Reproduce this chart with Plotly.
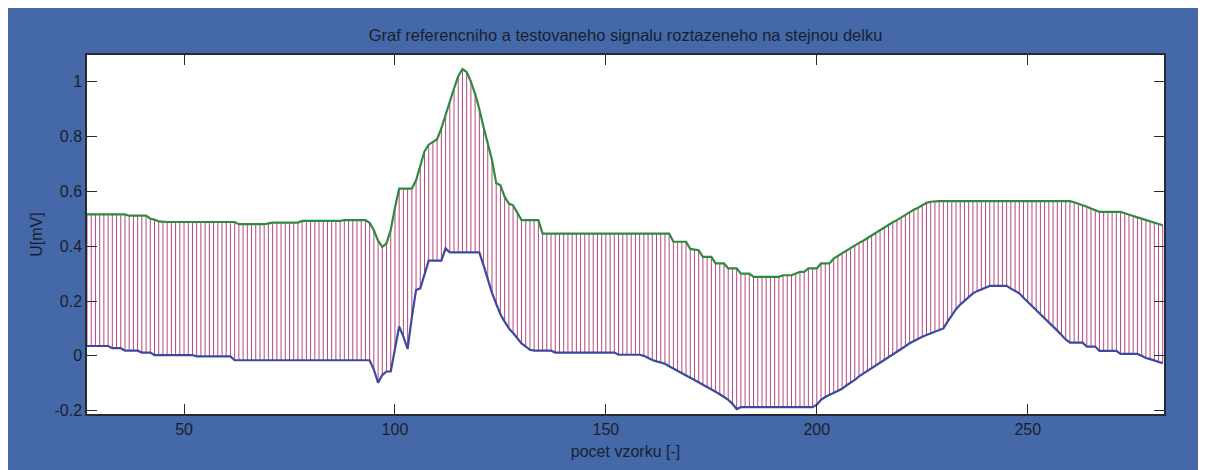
import plotly.graph_objects as go

# sample index (x axis)
samples = list(range(27, 283))

# upper (reference) signal, one value per sample 27..282
upper = [
    0.516, 0.516, 0.516, 0.516, 0.516, 0.516, 0.516, 0.516, 0.516, 0.516,
    0.511, 0.511, 0.511, 0.511, 0.511, 0.500, 0.497, 0.490, 0.488, 0.488,
    0.488, 0.488, 0.488, 0.488, 0.488, 0.488, 0.488, 0.488, 0.488, 0.488,
    0.488, 0.488, 0.488, 0.488, 0.488, 0.488, 0.480, 0.480, 0.480, 0.480,
    0.480, 0.480, 0.480, 0.483, 0.486, 0.486, 0.486, 0.486, 0.486, 0.486,
    0.486, 0.492, 0.492, 0.492, 0.492, 0.492, 0.492, 0.492, 0.492, 0.492,
    0.492, 0.495, 0.495, 0.495, 0.495, 0.495, 0.495, 0.485, 0.458, 0.420,
    0.397, 0.410, 0.460, 0.540, 0.610, 0.610, 0.610, 0.610, 0.640, 0.690,
    0.745, 0.770, 0.780, 0.790, 0.830, 0.880, 0.930, 0.975, 1.020, 1.046,
    1.035, 1.000, 0.955, 0.900, 0.834, 0.770, 0.715, 0.630, 0.622, 0.580,
    0.555, 0.549, 0.520, 0.495, 0.495, 0.495, 0.495, 0.495, 0.446, 0.446,
    0.446, 0.446, 0.446, 0.446, 0.446, 0.446, 0.446, 0.446, 0.446, 0.446,
    0.446, 0.446, 0.446, 0.446, 0.446, 0.446, 0.446, 0.446, 0.446, 0.446,
    0.446, 0.446, 0.446, 0.446, 0.446, 0.446, 0.446, 0.446, 0.446, 0.416,
    0.416, 0.416, 0.416, 0.390, 0.388, 0.385, 0.361, 0.361, 0.361, 0.337,
    0.337, 0.337, 0.319, 0.319, 0.319, 0.300, 0.300, 0.300, 0.288, 0.288,
    0.288, 0.288, 0.288, 0.288, 0.288, 0.294, 0.294, 0.294, 0.300, 0.306,
    0.306, 0.319, 0.319, 0.319, 0.337, 0.337, 0.337, 0.355, 0.365, 0.373,
    0.385, 0.395, 0.404, 0.412, 0.420, 0.430, 0.440, 0.450, 0.460, 0.470,
    0.478, 0.487, 0.495, 0.505, 0.515, 0.525, 0.533, 0.540, 0.550, 0.558,
    0.562, 0.564, 0.564, 0.564, 0.564, 0.564, 0.564, 0.564, 0.564, 0.564,
    0.564, 0.564, 0.564, 0.564, 0.564, 0.564, 0.564, 0.564, 0.564, 0.564,
    0.564, 0.564, 0.564, 0.564, 0.564, 0.564, 0.564, 0.564, 0.564, 0.564,
    0.564, 0.564, 0.564, 0.564, 0.560, 0.555, 0.549, 0.544, 0.537, 0.530,
    0.525, 0.525, 0.525, 0.525, 0.525, 0.525, 0.520, 0.514, 0.510, 0.505,
    0.500, 0.495, 0.490, 0.485, 0.480, 0.476,
]

# lower (tested) signal, one value per sample 27..282
lower = [
    0.036, 0.036, 0.036, 0.036, 0.036, 0.036, 0.028, 0.028, 0.028, 0.019,
    0.019, 0.019, 0.019, 0.012, 0.012, 0.012, 0.003, 0.003, 0.003, 0.003,
    0.003, 0.003, 0.003, 0.003, 0.003, 0.003, -0.002, -0.002, -0.002, -0.002,
    -0.002, -0.002, -0.002, -0.002, -0.002, -0.016, -0.016, -0.016, -0.016, -0.016,
    -0.016, -0.016, -0.016, -0.016, -0.016, -0.016, -0.016, -0.016, -0.016, -0.016,
    -0.016, -0.016, -0.016, -0.016, -0.016, -0.016, -0.016, -0.016, -0.016, -0.016,
    -0.016, -0.016, -0.016, -0.016, -0.016, -0.016, -0.016, -0.016, -0.050, -0.098,
    -0.070, -0.057, -0.057, 0.030, 0.107, 0.070, 0.025, 0.140, 0.240, 0.246,
    0.300, 0.347, 0.347, 0.347, 0.347, 0.392, 0.377, 0.377, 0.377, 0.377,
    0.377, 0.377, 0.377, 0.377, 0.330, 0.280, 0.230, 0.190, 0.152, 0.125,
    0.100, 0.083, 0.065, 0.045, 0.034, 0.022, 0.019, 0.019, 0.019, 0.019,
    0.019, 0.012, 0.012, 0.012, 0.012, 0.012, 0.012, 0.012, 0.012, 0.012,
    0.012, 0.012, 0.012, 0.012, 0.012, 0.012, 0.004, 0.004, 0.004, 0.004,
    0.004, 0.004, 0.000, -0.008, -0.015, -0.020, -0.025, -0.029, -0.038, -0.047,
    -0.055, -0.063, -0.072, -0.080, -0.088, -0.096, -0.104, -0.112, -0.122, -0.131,
    -0.140, -0.150, -0.160, -0.175, -0.194, -0.187, -0.187, -0.187, -0.187, -0.187,
    -0.187, -0.187, -0.187, -0.187, -0.187, -0.187, -0.187, -0.187, -0.187, -0.187,
    -0.187, -0.187, -0.187, -0.178, -0.160, -0.150, -0.142, -0.135, -0.127, -0.120,
    -0.108, -0.099, -0.088, -0.075, -0.065, -0.055, -0.045, -0.037, -0.028, -0.018,
    -0.008, 0.002, 0.012, 0.022, 0.035, 0.046, 0.055, 0.062, 0.070, 0.076,
    0.082, 0.088, 0.095, 0.100, 0.125, 0.150, 0.170, 0.187, 0.200, 0.214,
    0.228, 0.236, 0.243, 0.250, 0.255, 0.255, 0.255, 0.255, 0.255, 0.245,
    0.235, 0.228, 0.212, 0.197, 0.183, 0.168, 0.155, 0.140, 0.122, 0.107,
    0.092, 0.076, 0.060, 0.048, 0.048, 0.048, 0.048, 0.034, 0.034, 0.034,
    0.018, 0.018, 0.018, 0.018, 0.018, 0.007, 0.007, 0.007, 0.007, 0.007,
    0.000, -0.008, -0.012, -0.017, -0.022, -0.027,
]

x_ticks = [50, 100, 150, 200, 250]
x_tick_labels = ["50", "100", "150", "200", "250"]
y_ticks = [-0.2, 0, 0.2, 0.4, 0.6, 0.8, 1.0]
y_tick_labels = ["-0.2", "0", "0.2", "0.4", "0.6", "0.8", "1"]

assert len(upper) == len(samples) and len(lower) == len(samples)

BG = "#4568A8"
TXT = "#1a1f2e"
FONT = "Liberation Sans, Arial, sans-serif"

# vertical connectors between the two signals at each sample
stem_x, stem_y = [], []
for s, lo, up in zip(samples, lower, upper):
    stem_x += [s, s, None]
    stem_y += [lo, up, None]

fig = go.Figure()
fig.add_trace(go.Scatter(x=stem_x, y=stem_y, mode="lines",
                         line=dict(color="#B4497E", width=1),
                         connectgaps=False, hoverinfo="skip", showlegend=False))
fig.add_trace(go.Scatter(x=samples, y=upper, mode="lines",
                         line=dict(color="#2E8A3F", width=2.2), showlegend=False))
fig.add_trace(go.Scatter(x=samples, y=lower, mode="lines",
                         line=dict(color="#3B4AA0", width=2.2), showlegend=False))

# page has an 8px body margin; the figure overflows the window on right/bottom
W, H = 1206, 470
L, R, T, B = 79, 50, 47, 64

axis_common = dict(showgrid=False, zeroline=False, showline=True,
                   linecolor="#262a33", linewidth=1.5, mirror="ticks",
                   ticks="inside", ticklen=10, tickcolor="#262a33", tickwidth=1,
                   tickfont=dict(family=FONT, size=16, color=TXT))

fig.update_layout(
    width=W, height=H,
    margin=dict(l=L, r=R, t=T, b=B),
    paper_bgcolor=BG, plot_bgcolor="white",
    title=dict(text="Graf referencniho a testovaneho signalu roztazeneho na stejnou delku",
               x=(L + (W - L - R) / 2) / W, xref="container", xanchor="center",
               y=1 - 27 / H, yref="container", yanchor="middle",
               font=dict(family=FONT, size=16.5, color=TXT)),
    xaxis=dict(range=[27, 282.3], tickvals=x_ticks, ticktext=x_tick_labels,
               title=dict(text="pocet vzorku [-]", standoff=9,
                          font=dict(family=FONT, size=16, color=TXT)),
               **axis_common),
    yaxis=dict(range=[-0.212, 1.097], tickvals=y_ticks, ticktext=y_tick_labels,
               title=dict(text="U[mV]", standoff=8,
                          font=dict(family=FONT, size=16, color=TXT)),
               **axis_common),
)

fig.write_html(
    "out.html",
    post_script="document.documentElement.style.overflow='hidden';"
                "document.body.style.overflow='hidden';",
)
